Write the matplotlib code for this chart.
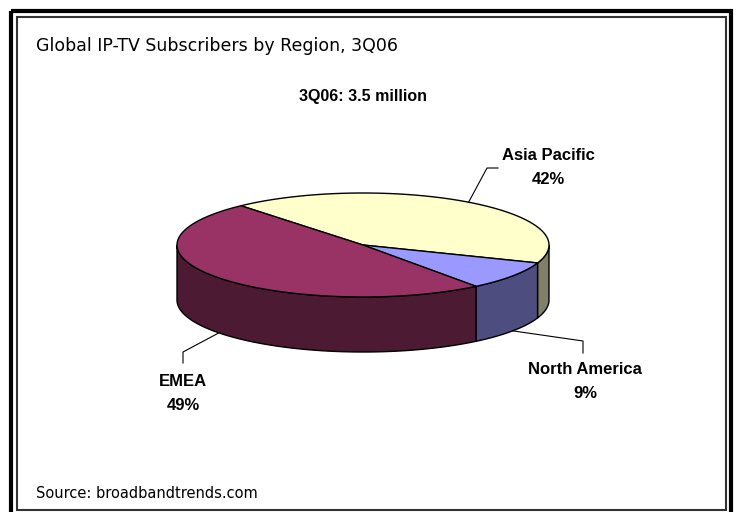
import numpy as np
import matplotlib
matplotlib.use("Agg")
import matplotlib.pyplot as plt
from matplotlib.patches import Polygon, Rectangle

# Datos del gráfico (orden horario desde el borde superior izquierdo)
regiones = ["Asia Pacific", "North America", "EMEA"]
participacion = [42, 9, 49]
colores_tapa = ["#FFFFCC", "#9999FF", "#993366"]
colores_lado = ["#80806A", "#4D4D80", "#4D1A33"]

titulo = "Global IP-TV Subscribers by Region, 3Q06"
subtitulo = "3Q06: 3.5 million"
fuente = "Source: broadbandtrends.com"

# Geometría del pastel 3D (en píxeles)
cx, cy = 363, 245
a, b = 186, 52
prof = 55
angulo_inicio = 131.0


def punto(t, dy=0.0):
    t = np.radians(t)
    return cx + a * np.cos(t), cy - b * np.sin(t) + dy


def arco(t1, t2, dy=0.0, n=120):
    ts = np.linspace(t1, t2, n)
    return [punto(t, dy) for t in ts]


fig = plt.figure(figsize=(7.36, 5.12), dpi=100)
ax = fig.add_axes([0, 0, 1, 1])
ax.set_xlim(0, 736)
ax.set_ylim(512, 0)
ax.axis("off")

# Marco doble
ax.add_patch(Rectangle((11, 11), 720, 505, fill=False, lw=3, ec="black"))
ax.add_patch(Rectangle((16.5, 16.5), 709, 493, fill=False, lw=1.5, ec="#333333"))

# Rangos angulares (sentido horario)
rangos = []
t = angulo_inicio
for v in participacion:
    ang = 360 * v / sum(participacion)
    rangos.append((t - ang, t))
    t -= ang

# Caras laterales (solo la mitad frontal es visible)
for (lo, hi), col in zip(rangos, colores_lado):
    for k in (-1, 0, 1):
        s = max(lo, -180 + 360 * k)
        e = min(hi, 0 + 360 * k)
        if e > s:
            pts = arco(s, e) + arco(e, s, dy=prof)
            ax.add_patch(Polygon(pts, closed=True, fc=col, ec="black", lw=1))

# Caras superiores
for (lo, hi), col in zip(rangos, colores_tapa):
    pts = [(cx, cy)] + arco(lo, hi)
    ax.add_patch(Polygon(pts, closed=True, fc=col, ec="black", lw=1, joinstyle="round"))

# Etiquetas con líneas guía
fam = ["Liberation Sans Narrow", "Liberation Sans"]
etiquetas = {
    "Asia Pacific": dict(quiebre=(487, 168), fin=(498, 168), texto=(548, 168), dy=0),
    "North America": dict(quiebre=(583, 341), fin=(583, 353), texto=(585, 382), dy=prof),
    "EMEA": dict(quiebre=(183, 352), fin=(183, 363), texto=(183, 393), dy=prof),
}
for (lo, hi), nombre, v in zip(rangos, regiones, participacion):
    e = etiquetas[nombre]
    ancla = punto((lo + hi) / 2, dy=e["dy"])
    xs = [ancla[0], e["quiebre"][0], e["fin"][0]]
    ys = [ancla[1], e["quiebre"][1], e["fin"][1]]
    ax.plot(xs, ys, color="black", lw=0.8)
    ax.text(e["texto"][0], e["texto"][1], f"{nombre}\n{v}%", ha="center", va="center",
            fontsize=12, fontweight="bold", family=fam, linespacing=1.75)

ax.text(36, 46, titulo, ha="left", va="center", fontsize=12.5, family="DejaVu Sans")
ax.text(363, 96, subtitulo, ha="center", va="center", fontsize=11.5, fontweight="bold", family=fam)
ax.text(36, 493, fuente, ha="left", va="center", fontsize=10.5, family="DejaVu Sans")

fig.savefig("out.png", dpi=100)
